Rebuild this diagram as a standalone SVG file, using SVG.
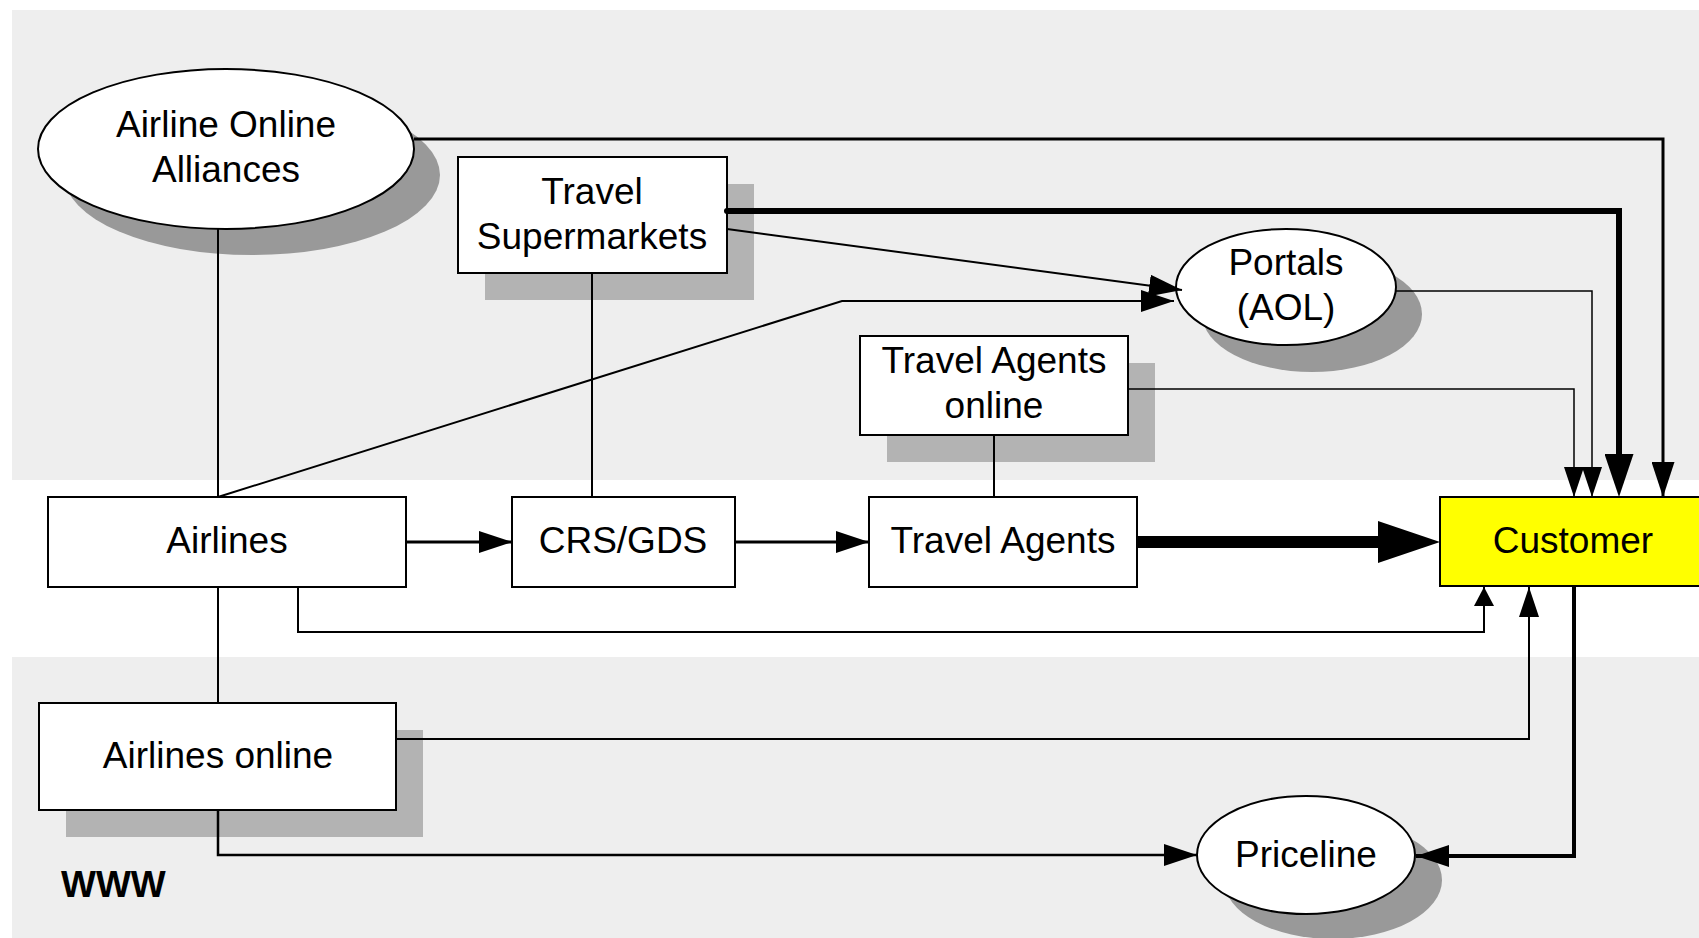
<svg xmlns="http://www.w3.org/2000/svg" width="1699" height="938" viewBox="0 0 1699 938">
<defs>
<style>
.node{fill:#fff;stroke:#000;stroke-width:2}
.esh{fill:#999}
.rsh{fill:#b3b3b3}
.t{font-family:"Liberation Sans",Arial,sans-serif;font-size:37px;fill:#000;text-anchor:middle}
.c{fill:none;stroke:#000;stroke-linejoin:miter}
</style>
<marker id="a" markerUnits="userSpaceOnUse" viewBox="0 0 33 22" refX="33" refY="11" markerWidth="33" markerHeight="22" orient="auto"><path d="M0,0 L33,11 L0,22 z" fill="#000"/></marker>
<marker id="as" markerUnits="userSpaceOnUse" viewBox="0 0 30 20" refX="30" refY="10" markerWidth="30" markerHeight="20" orient="auto"><path d="M0,0 L30,10 L0,20 z" fill="#000"/></marker>
<marker id="am" markerUnits="userSpaceOnUse" viewBox="0 0 35 23" refX="35" refY="11.5" markerWidth="35" markerHeight="23" orient="auto"><path d="M0,0 L35,11.5 L0,23 z" fill="#000"/></marker>
<marker id="ash" markerUnits="userSpaceOnUse" viewBox="0 0 19 20" refX="19" refY="10" markerWidth="19" markerHeight="20" orient="auto"><path d="M0,0 L19,10 L0,20 z" fill="#000"/></marker>
<marker id="big" markerUnits="userSpaceOnUse" viewBox="0 0 43 29" refX="0" refY="14.5" markerWidth="43" markerHeight="29" orient="auto"><path d="M0,0 L43,14.5 L0,29 z" fill="#000"/></marker>
<marker id="huge" markerUnits="userSpaceOnUse" viewBox="0 0 62 42" refX="0" refY="21" markerWidth="62" markerHeight="42" orient="auto"><path d="M0,0 L62,21 L0,42 z" fill="#000"/></marker>
</defs>
<rect width="1699" height="938" fill="#fff"/>
<rect x="12" y="10" width="1687" height="470" fill="#eeeeee"/>
<rect x="12" y="657" width="1687" height="281" fill="#eeeeee"/>

<g id="airline-online-alliances">
<ellipse class="esh" cx="252" cy="175" rx="188" ry="80"/>
<ellipse class="node" cx="226" cy="149" rx="188" ry="80"/>
<text class="t" x="226" y="137">Airline Online</text>
<text class="t" x="226" y="182">Alliances</text>
</g>

<g id="travel-supermarkets">
<rect class="rsh" x="485" y="184" width="269" height="116"/>
<rect class="node" x="458" y="157" width="269" height="116"/>
<text class="t" x="592" y="204">Travel</text>
<text class="t" x="592" y="249">Supermarkets</text>
</g>

<g id="portals">
<ellipse class="esh" cx="1312" cy="314" rx="110" ry="58"/>
<ellipse class="node" cx="1286" cy="287" rx="110" ry="58"/>
<text class="t" x="1286" y="275">Portals</text>
<text class="t" x="1286" y="320">(AOL)</text>
</g>

<g id="travel-agents-online">
<rect class="rsh" x="887" y="363" width="268" height="99"/>
<rect class="node" x="860" y="336" width="268" height="99"/>
<text class="t" x="994" y="373">Travel Agents</text>
<text class="t" x="994" y="418">online</text>
</g>

<g id="airlines">
<rect class="node" x="48" y="497" width="358" height="90"/>
<text class="t" x="227" y="553">Airlines</text>
</g>

<g id="crs-gds">
<rect class="node" x="512" y="497" width="223" height="90"/>
<text class="t" x="623" y="553">CRS/GDS</text>
</g>

<g id="travel-agents">
<rect class="node" x="869" y="497" width="268" height="90"/>
<text class="t" x="1003" y="553">Travel Agents</text>
</g>

<g id="customer">
<rect x="1440" y="497" width="270" height="89" fill="#ffff00" stroke="#000" stroke-width="2"/>
<text class="t" x="1573" y="553">Customer</text>
</g>

<g id="airlines-online">
<rect class="rsh" x="66" y="730" width="357" height="107"/>
<rect class="node" x="39" y="703" width="357" height="107"/>
<text class="t" x="218" y="768">Airlines online</text>
</g>

<g id="priceline">
<ellipse class="esh" cx="1333" cy="880" rx="109" ry="59"/>
<ellipse class="node" cx="1306" cy="855" rx="109" ry="59"/>
<text class="t" x="1306" y="867">Priceline</text>
</g>

<g id="www-label">
<text x="61" y="897" font-family="'Liberation Sans',Arial,sans-serif" font-size="37" font-weight="bold" fill="#000">WWW</text>
</g>

<g id="connectors">
<path class="c" d="M414,139 H1663 V497" stroke-width="3" marker-end="url(#am)"/>
<path class="c" d="M727,211 H1619 V454" stroke-width="6" stroke-linecap="round" marker-end="url(#big)"/>
<path class="c" d="M727,229 L1182,290" stroke-width="2" marker-end="url(#a)"/>
<path class="c" d="M218,497 L842,301 H1174" stroke-width="2" marker-end="url(#a)"/>
<path class="c" d="M1396,291 H1592 V497" stroke-width="1.5" marker-end="url(#as)"/>
<path class="c" d="M1128,389 H1574 V497" stroke-width="1.5" marker-end="url(#as)"/>
<path class="c" d="M218,229 V497" stroke-width="2"/>
<path class="c" d="M592,273 V497" stroke-width="2"/>
<path class="c" d="M994,435 V497" stroke-width="2"/>
<path class="c" d="M406,542 H512" stroke-width="3" marker-end="url(#a)"/>
<path class="c" d="M735,542 H869" stroke-width="3" marker-end="url(#a)"/>
<path class="c" d="M1137,542 H1378" stroke-width="12" marker-end="url(#huge)"/>
<path class="c" d="M298,587 V632 H1484 V587" stroke-width="2" marker-end="url(#ash)"/>
<path class="c" d="M218,587 V703" stroke-width="2"/>
<path class="c" d="M396,739 H1529 V587" stroke-width="2" marker-end="url(#as)"/>
<path class="c" d="M218,810 V855 H1197" stroke-width="2.5" marker-end="url(#a)"/>
<path class="c" d="M1574,587 V856 H1416" stroke-width="4" marker-end="url(#a)"/>
</g>
</svg>
